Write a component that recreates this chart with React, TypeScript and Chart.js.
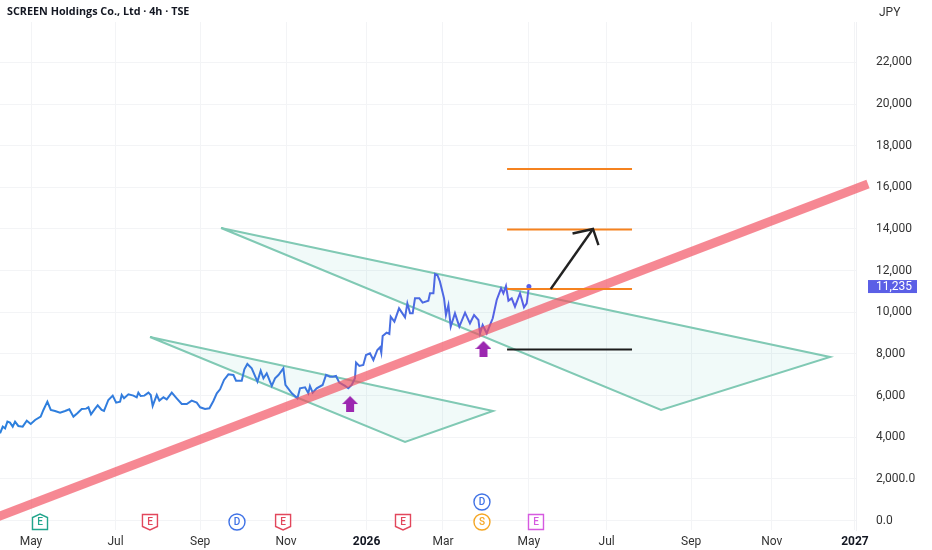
import React, { useEffect, useRef } from "react";
import { Chart, registerables } from "chart.js";

Chart.register(...registerables);

const FONT = "Roboto";
const titleText = "SCREEN Holdings Co., Ltd · 4h · TSE";
const currency = "JPY";
const lastPriceLabel = "11,235";
const lastPrice = 11235;

const monthLabels = ["May", "Jul", "Sep", "Nov", "2026", "Mar", "May", "Jul", "Sep", "Nov", "2027"];
const monthDays = [0, 62, 124, 187, 246, 302, 365, 422, 484, 543, 604];
const priceTicks = [0, 2000, 4000, 6000, 8000, 10000, 12000, 14000, 16000, 18000, 20000, 22000];

const days = [-22.7, -20.7, -19, -17.3, -15.4, -13.4, -11.7, -9.3, -6.1, -3.1, -0.2, 3, 7.1, 9.1, 12, 14.5, 17.6, 21.3, 25, 28.1, 31.1, 34, 37.2, 40.4, 42.1, 44, 47, 48.9, 51.8, 53.5, 56.7, 59.9, 62.4, 65.3, 66.5, 68.2, 71.4, 75.1, 77.5, 78.7, 80.4, 83.1, 86.1, 87.8, 89.2, 92.2, 94.1, 97.1, 99.5, 103.2, 106.8, 110.5, 114.2, 117.8, 121.5, 124, 127.6, 130.8, 133.7, 136.2, 138.6, 141.5, 144.7, 148.4, 150.3, 154.5, 156.4, 158.6, 161.8, 166, 168.4, 170.4, 172.8, 176.5, 178.9, 181.4, 185, 186.5, 191.2, 195.3, 197.2, 200.9, 203.3, 204.5, 206.5, 209.4, 213.8, 216.3, 219.2, 221.2, 223.6, 226, 230.2, 232.6, 235.1, 237.5, 238.3, 240.7, 243.6, 245.6, 248.5, 251, 253.9, 255.9, 256.8, 257.8, 260.7, 262.7, 263.7, 266.4, 269.8, 274.2, 275.9, 277.9, 279.8, 281.5, 284.7, 287.1, 291.3, 292.5, 295, 296.2, 297.9, 299.8, 302.8, 304.2, 306, 307.7, 310.8, 314, 318.2, 321.8, 324.8, 328, 329.2, 331.1, 334.1, 336.5, 338.5, 341.4, 344.6, 346.3, 348.2, 350, 352.4, 354.8, 358.5, 361.4, 363.4, 365];
const prices = [4188, 4508, 4428, 4748, 4700, 4508, 4748, 4540, 4508, 4796, 4636, 4828, 4988, 5308, 5708, 5308, 5260, 5180, 5260, 5340, 4988, 5148, 5356, 5372, 5436, 5100, 5372, 5532, 5308, 5260, 5788, 5996, 5660, 5708, 6028, 5868, 6060, 5996, 5916, 6140, 5980, 5996, 6140, 6028, 5500, 6028, 5756, 5916, 5820, 6140, 5868, 5596, 5596, 5756, 5660, 5436, 5356, 5388, 5740, 6108, 6300, 6748, 7020, 6988, 6716, 6716, 7260, 7516, 7308, 6668, 7196, 6828, 7068, 6460, 6828, 6988, 7308, 6508, 6108, 5868, 6349, 6397, 6109, 6461, 6141, 6349, 6509, 6989, 6909, 6909, 6941, 6621, 6461, 6349, 6509, 6829, 7581, 7421, 7469, 7949, 8029, 7709, 8189, 8317, 8061, 8861, 9021, 8957, 9789, 9549, 10189, 9757, 10429, 9949, 9949, 10669, 10669, 10461, 10557, 10909, 10909, 11837, 11789, 11469, 10669, 9869, 10349, 9309, 9949, 9309, 9981, 9469, 9869, 9629, 8989, 9389, 8989, 9389, 9709, 10589, 11149, 10909, 11261, 10557, 10669, 10269, 10909, 10237, 10429, 11235];

const wedgeOneDays = [87.2, 338.7, 274.2, 87.2];
const wedgeOnePrices = [8812, 5258, 3770, 8812];
const wedgeTwoDays = [139.3, 585.8, 461.9, 139.3];
const wedgeTwoPrices = [14046, 7851, 5306, 14046];

const trendDays = [-25.7, 613.6];
const trendPrices = [144, 16160];

const levelDays = [349, 440.6];
const targetHigh = 16880;
const targetMid = 13975;
const targetLow = 11117;
const stopLevel = 8212;

const arrowShaftDays = [381, 412];
const arrowShaftPrices = [11117, 14000];
const arrowHeadDays = [397, 412, 416];
const arrowHeadPrices = [13780, 14000, 13220];

const buyDays = [233.9, 331.7];
const buyPrices = [5594, 8236];

const eventDays = [6.6, 87.2, 151, 184.8, 272.7, 330.6, 330.6, 370.2];
const eventLetters = ["E", "E", "D", "E", "E", "S", "D", "E"];
const eventKinds = ["up", "down", "circle", "down", "down", "circle", "circle", "square"];
const eventColors = ["#22a58c", "#e2475c", "#3f72e6", "#e2475c", "#e2475c", "#f5a623", "#3f72e6", "#d65ae0"];
const eventRows = [0, 0, 0, 0, 0, 0, 1, 0];

const toXY = (xs: number[], ys: number[]) => xs.map((x, i) => ({ x, y: ys[i] }));

function purpleArrow(): HTMLCanvasElement {
  const c = document.createElement("canvas");
  c.width = 16;
  c.height = 16;
  const g = c.getContext("2d")!;
  g.fillStyle = "#9c27b0";
  g.beginPath();
  g.moveTo(8, 0);
  g.lineTo(16, 8);
  g.lineTo(12, 8);
  g.lineTo(12, 16);
  g.lineTo(4, 16);
  g.lineTo(4, 8);
  g.lineTo(0, 8);
  g.closePath();
  g.fill();
  return c;
}

const overlayPlugin = {
  id: "overlay",
  afterLayout(chart: any) {
    // The plot runs to the canvas's left edge.
    const x = chart.scales.x;
    x.left = 0;
    x.width = x.right;
    x.configure();
    chart.chartArea.left = 0;
    chart.chartArea.width = chart.chartArea.right;
  },
  afterDraw(chart: any) {
    const { ctx, scales } = chart;
    const xs = scales.x;
    const ys = scales.y;
    ctx.save();
    ctx.textBaseline = "middle";

    ctx.textAlign = "left";
    ctx.fillStyle = "#131722";
    ctx.font = `700 10.8px "Open Sans"`;
    ctx.fillText(titleText, 7, 12);
    ctx.font = `12px ${FONT}`;
    ctx.fillStyle = "#333";
    ctx.fillText(currency, 879, 13);

    const py = ys.getPixelForValue(lastPrice);
    ctx.fillStyle = "#5b5fe6";
    ctx.fillRect(868, py - 6.5, 49, 13);
    ctx.fillStyle = "#fff";
    ctx.textAlign = "left";
    ctx.fillText(lastPriceLabel, 876, py + 0.5);

    eventDays.forEach((day, i) => {
      const cx = xs.getPixelForValue(day);
      const cy = ys.getPixelForValue(0) + 1.5 - eventRows[i] * 20;
      const color = eventColors[i];
      const kind = eventKinds[i];
      ctx.strokeStyle = color;
      ctx.lineWidth = 1.4;
      ctx.fillStyle = "#fff";
      ctx.beginPath();
      if (kind === "circle") {
        ctx.arc(cx, cy, 8, 0, Math.PI * 2);
      } else if (kind === "square") {
        ctx.rect(cx - 7.5, cy - 7.5, 15, 15);
      } else if (kind === "down") {
        ctx.moveTo(cx - 7.5, cy - 7.5);
        ctx.lineTo(cx + 7.5, cy - 7.5);
        ctx.lineTo(cx + 7.5, cy + 4.5);
        ctx.lineTo(cx, cy + 8);
        ctx.lineTo(cx - 7.5, cy + 4.5);
        ctx.closePath();
      } else {
        ctx.moveTo(cx - 7.5, cy + 7.5);
        ctx.lineTo(cx + 7.5, cy + 7.5);
        ctx.lineTo(cx + 7.5, cy - 4.5);
        ctx.lineTo(cx, cy - 8);
        ctx.lineTo(cx - 7.5, cy - 4.5);
        ctx.closePath();
      }
      ctx.fill();
      ctx.stroke();
      ctx.fillStyle = color;
      ctx.textAlign = "center";
      ctx.font = `500 10px ${FONT}`;
      ctx.fillText(eventLetters[i], cx, cy + 0.5);
    });
    ctx.restore();
  },
};

const noPadding = (s: any) => {
  s.paddingLeft = 0;
  s.paddingRight = 0;
  s.paddingTop = 0;
  s.paddingBottom = 0;
};

export default function App() {
  const ref = useRef<HTMLCanvasElement>(null);

  useEffect(() => {
    const wedge = (xs: number[], ys: number[]) => ({
      data: toXY(xs, ys),
      showLine: true,
      borderColor: "#80c9b4",
      borderWidth: 2,
      backgroundColor: "rgba(50,190,170,0.07)",
      fill: "shape",
      pointRadius: 0,
      tension: 0,
      order: 6,
    });
    const level = (value: number, color: string) => ({
      data: toXY(levelDays, [value, value]),
      showLine: true,
      borderColor: color,
      borderWidth: 1.8,
      pointRadius: 0,
      order: 1,
    });
    const lastIndex = days.length - 1;
    const chart = new Chart(ref.current!, {
      type: "scatter",
      data: {
        datasets: [
          wedge(wedgeOneDays, wedgeOnePrices),
          wedge(wedgeTwoDays, wedgeTwoPrices),
          {
            data: toXY(days, prices),
            showLine: true,
            borderWidth: 2,
            tension: 0,
            borderColor: (c: any) => {
              const area = c.chart.chartArea;
              if (!area) return "#3f78e0";
              const g = c.chart.ctx.createLinearGradient(0, 0, 530, 0);
              g.addColorStop(0, "#2b80dd");
              g.addColorStop(0.55, "#3a78de");
              g.addColorStop(1, "#5a5fe6");
              return g;
            },
            pointRadius: (c: any) => (c.dataIndex === lastIndex ? 2.5 : 0),
            pointBackgroundColor: "#5a5fe6",
            pointBorderWidth: 0,
            order: 4,
          },
          {
            data: toXY(trendDays, trendPrices),
            showLine: true,
            borderColor: "rgba(241,80,96,0.68)",
            borderWidth: 9,
            borderCapStyle: "butt",
            pointRadius: 0,
            clip: false,
            order: 3,
          },
          level(targetHigh, "#f5821f"),
          level(targetMid, "#f5821f"),
          level(targetLow, "#f5821f"),
          level(stopLevel, "#1c1c1c"),
          {
            data: toXY(arrowShaftDays, arrowShaftPrices),
            showLine: true,
            borderColor: "#222",
            borderWidth: 2.4,
            pointRadius: 0,
            order: 0,
          },
          {
            data: toXY(arrowHeadDays, arrowHeadPrices),
            showLine: true,
            borderColor: "#222",
            borderWidth: 2.4,
            pointRadius: 0,
            order: 0,
          },
          {
            data: toXY(buyDays, buyPrices),
            pointStyle: purpleArrow(),
            pointRadius: 8,
            order: 0,
          },
        ] as any,
      },
      options: {
        responsive: false,
        animation: false,
        events: [],
        layout: { padding: { top: 22 } },
        plugins: {
          legend: { display: false },
          tooltip: { enabled: false },
          title: { display: false },
        },
        scales: {
          x: {
            type: "linear",
            min: -22.73,
            max: 604.8,
            afterBuildTicks: (s: any) => {
              s.ticks = monthDays.map((value) => ({ value }));
            },
            afterFit: (s: any) => {
              s.height = 20;
              noPadding(s);
            },
            grid: { color: "#f3f4f6", drawTicks: false },
            border: { display: false },
            ticks: {
              autoSkip: false,
              maxRotation: 0,
              padding: 5,
              color: (c: any) => (c.index === 4 || c.index === 10 ? "#131722" : "#333"),
              font: (c: any) => ({
                family: FONT,
                size: 12,
                weight: c.index === 4 || c.index === 10 ? "bold" : "normal",
              }),
              callback: (_v: any, i: number) => monthLabels[i],
            },
          },
          y: {
            position: "right",
            min: -456,
            max: 23938,
            afterBuildTicks: (s: any) => {
              s.ticks = priceTicks.map((value) => ({ value }));
            },
            afterFit: (s: any) => {
              s.width = 76;
              noPadding(s);
            },
            grid: { color: "#f3f4f6", drawTicks: false },
            border: { display: true, color: "#f0f1f4" },
            ticks: {
              padding: 20,
              color: "#333",
              font: { family: FONT, size: 12 },
              callback: (v: any) =>
                v < 4000 ? Number(v).toLocaleString("en-US", { minimumFractionDigits: 1 }) : Number(v).toLocaleString("en-US"),
            },
          },
        },
      } as any,
      plugins: [overlayPlugin],
    });
    return () => chart.destroy();
  }, []);

  return (
    <div style={{ position: "absolute", left: 0, top: 0, width: 932, height: 550 }}>
      <canvas ref={ref} width={932} height={550} style={{ display: "block" }} />
    </div>
  );
}
